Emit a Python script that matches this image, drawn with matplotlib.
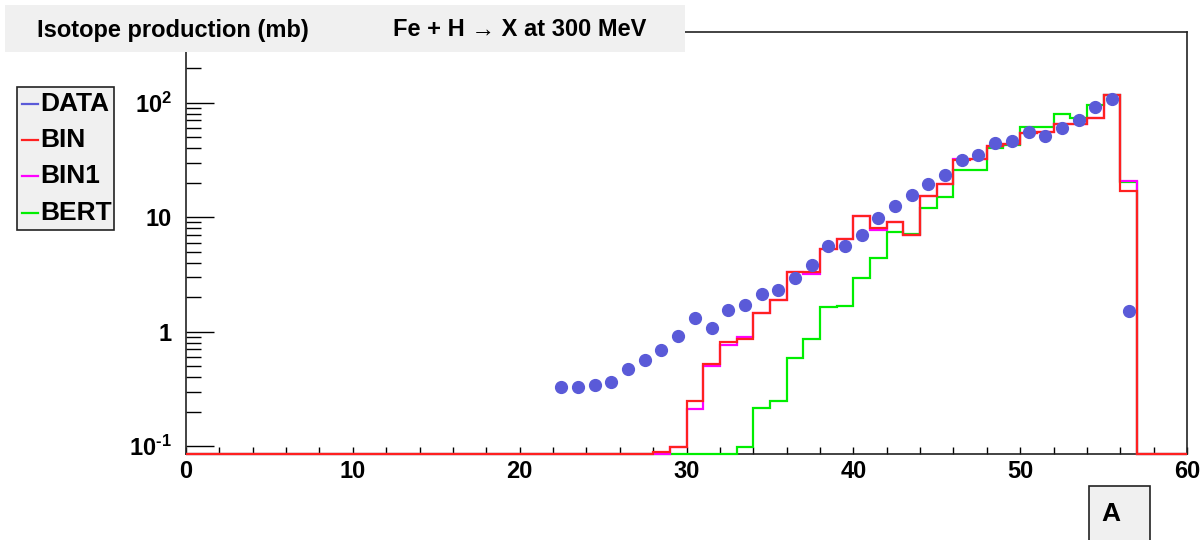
import matplotlib
matplotlib.use("Agg")
import numpy as np
import matplotlib.pyplot as plt
from matplotlib.patches import Rectangle
from matplotlib.lines import Line2D
from matplotlib.ticker import FixedLocator, FixedFormatter, NullFormatter

plt.rcParams["font.family"] = ["Liberation Sans", "DejaVu Sans"]
plt.rcParams["font.weight"] = "bold"
plt.rcParams["mathtext.fontset"] = "custom"
plt.rcParams["mathtext.rm"] = "Liberation Sans:bold"
plt.rcParams["mathtext.it"] = "Liberation Sans:bold"
plt.rcParams["mathtext.bf"] = "Liberation Sans:bold"

# 1-unit bins in mass number A, 0..60
EDGES = np.arange(0, 61)
FIRST_BIN = 28  # bins below this one are empty for all models

# cross sections (mb) for A = 28 .. 56
BIN = [0.089, 0.099, 0.25, 0.52, 0.81, 0.86, 1.45, 1.90, 3.3, 3.3,
       5.25, 6.5, 10.3, 8.0, 9.0, 7.0, 15.4, 19.5, 31.6, 32.3,
       41.9, 43.3, 54.1, 55.8, 65.0, 65.0, 73.5, 116.7, 16.9]
BIN1 = [0.0, 0.099, 0.21, 0.50, 0.76, 0.90, 1.45, 1.90, 3.3, 3.2,
        5.25, 6.5, 10.3, 7.7, 9.0, 7.0, 15.4, 19.5, 32.3, 32.3,
        41.9, 43.3, 54.1, 55.8, 65.0, 65.0, 73.5, 116.7, 20.8]
BERT = [0.0, 0.0, 0.0, 0.0, 0.0, 0.099, 0.215, 0.25, 0.59, 0.86,
        1.64, 1.67, 2.94, 4.36, 7.4, 7.1, 12.0, 15.0, 25.9, 25.9,
        40.0, 42.7, 61.0, 61.0, 79.0, 73.0, 95.0, 116.0, 20.2]

# measured points
DATA_A = [22.5, 23.5, 24.5, 25.5, 26.5, 27.5, 28.5, 29.5, 30.5, 31.5,
          32.5, 33.5, 34.5, 35.5, 36.5, 37.5, 38.5, 39.5, 40.5, 41.5,
          42.5, 43.5, 44.5, 45.5, 46.5, 47.5, 48.5, 49.5, 50.5, 51.5,
          52.5, 53.5, 54.5, 55.5, 56.5]
DATA_XS = [0.326, 0.329, 0.346, 0.367, 0.474, 0.569, 0.686, 0.92, 1.33, 1.08,
           1.55, 1.72, 2.13, 2.32, 2.97, 3.80, 5.63, 5.63, 7.0, 9.85,
           12.6, 15.6, 19.35, 23.2, 31.6, 34.7, 44.3, 46.0, 55.1, 51.2,
           60.0, 70.1, 92.3, 107.7, 1.52]

Y_MIN, Y_MAX = 0.0851, 414.0
Y_TICKS = [0.1, 1, 10, 100]
Y_TICK_LABELS = [r"$10^{\text{-}1}$", "1", "10", "$10^{2}$"]
X_TICKS = [0, 10, 20, 30, 40, 50, 60]

RED = "#ff2020"
MAGENTA = "#ff00ff"
GREEN = "#00ee00"
BLUE = "#5a5ad8"


def full_hist(vals):
    h = np.zeros(len(EDGES) - 1)
    h[FIRST_BIN:FIRST_BIN + len(vals)] = vals
    # empty bins sit on the bottom of the frame
    return np.clip(h, Y_MIN, None)


W, H = 1204, 540
fig = plt.figure(figsize=(W / 100, H / 100), dpi=100)
ax = fig.add_axes([186 / W, (H - 454.3) / H, (1187 - 186) / W, (454.3 - 32) / H])

for vals, col in [(BERT, GREEN), (BIN1, MAGENTA), (BIN, RED)]:
    ax.stairs(full_hist(vals), EDGES, baseline=None, color=col, lw=1.6,
              clip_on=False, zorder=3)

ax.plot(DATA_A, DATA_XS, "o", color=BLUE, ms=8.5, mec=BLUE, zorder=4)

ax.set_yscale("log")
ax.set_xlim(0, 60)
ax.set_ylim(Y_MIN, Y_MAX)

ax.yaxis.set_major_locator(FixedLocator(Y_TICKS))
ax.yaxis.set_major_formatter(FixedFormatter(Y_TICK_LABELS))
minor_y = [m * 10.0 ** e for e in range(-1, 3) for m in range(2, 10)]
ax.yaxis.set_minor_locator(FixedLocator(minor_y))
ax.yaxis.set_minor_formatter(NullFormatter())
ax.xaxis.set_major_locator(FixedLocator(X_TICKS))
ax.xaxis.set_minor_locator(FixedLocator(np.arange(0, 61, 2)))

ax.tick_params(axis="y", which="major", direction="in", length=20.5, width=1.0,
               labelsize=17, pad=10)
ax.tick_params(axis="y", which="minor", direction="in", length=10.8, width=1.0)
ax.tick_params(axis="x", which="both", direction="in", length=4.8, width=1.0,
               labelsize=17, pad=4)
for lab in ax.get_xticklabels() + ax.get_yticklabels():
    lab.set_fontweight("bold")

for sp in ax.spines.values():
    sp.set_linewidth(1.2)
    sp.set_color("#222222")

# title bar across the top-left
fig.add_artist(Rectangle((5 / W, (H - 52) / H), 680 / W, 47 / H,
                         transform=fig.transFigure, facecolor="#f0f0f0",
                         edgecolor="none", zorder=5))
fig.text(37 / W, 1 - 30 / H, "Isotope production (mb)", fontsize=17,
         fontweight="bold", va="center", ha="left", zorder=6)
fig.text(393 / W, 1 - 30 / H, "Fe + H \u2192 X at 300 MeV", fontsize=17,
         fontweight="bold", va="center", ha="left", zorder=6)

# legend box
fig.add_artist(Rectangle((17 / W, (H - 230) / H), 97 / W, 143 / H,
                         transform=fig.transFigure, facecolor="#f0f0f0",
                         edgecolor="#222222", lw=1.2, zorder=5))
entries = [("DATA", BLUE, 104), ("BIN", RED, 140), ("BIN1", MAGENTA, 176),
           ("BERT", GREEN, 213)]
for name, col, yp in entries:
    fig.add_artist(Line2D([22 / W, 38 / W], [1 - yp / H, 1 - yp / H],
                          transform=fig.transFigure, color=col, lw=1.6, zorder=6))
    fig.text(40 / W, 1 - yp / H, name, fontsize=19, fontweight="bold",
             va="center", ha="left", zorder=6)

# x-axis title box
fig.add_artist(Rectangle((1089 / W, -5 / H), 61 / W, 59 / H,
                         transform=fig.transFigure, facecolor="#f0f0f0",
                         edgecolor="#222222", lw=1.2, zorder=5))
fig.text(1111 / W, 1 - 514 / H, "A", fontsize=19, fontweight="bold",
         va="center", ha="center", zorder=6)

fig.savefig("out.png", dpi=100)
